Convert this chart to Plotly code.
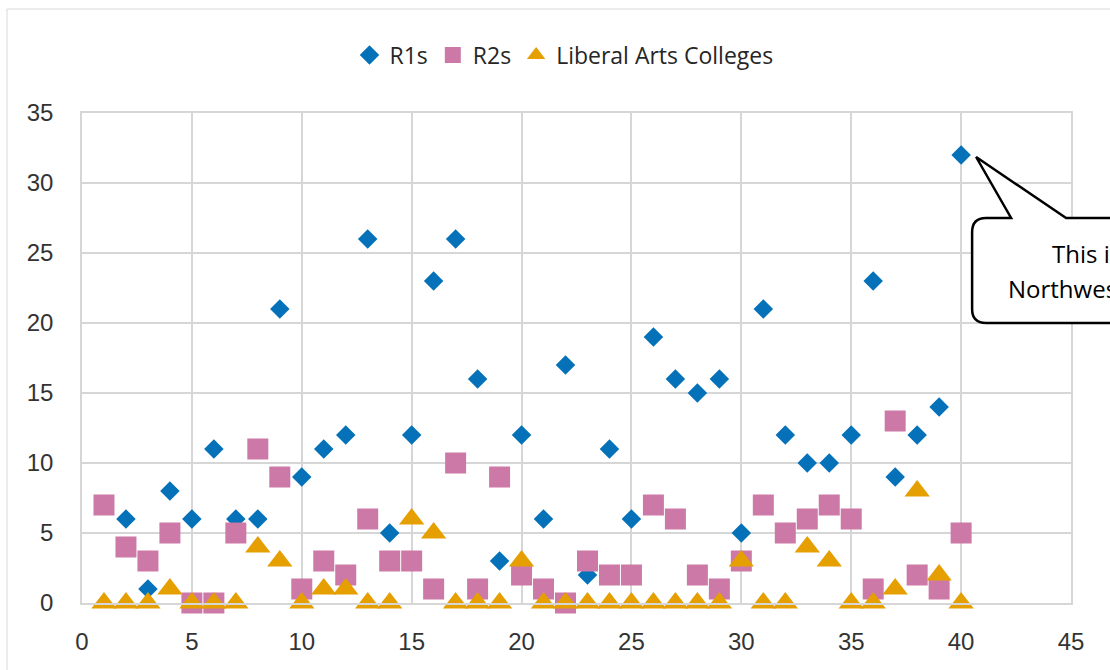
import plotly.graph_objects as go

# ---------------- data ----------------
r1_x = list(range(2, 41))
r1_y = [6, 1, 8, 6, 11, 6, 6, 21, 9, 11, 12, 26, 5, 12, 23, 26, 16, 3, 12, 6,
        17, 2, 11, 6, 19, 16, 15, 16, 5, 21, 12, 10, 10, 12, 23, 9, 12, 14, 32]

r2_x = list(range(1, 41))
r2_y = [7, 4, 3, 5, 0, 0, 5, 11, 9, 1, 3, 2, 6, 3, 3, 1, 10, 1, 9, 2,
        1, 0, 3, 2, 2, 7, 6, 2, 1, 3, 7, 5, 6, 7, 6, 1, 13, 2, 1, 5]

lac_x = list(range(1, 41))
lac_y = [0, 0, 0, 1, 0, 0, 0, 4, 3, 0, 1, 1, 0, 0, 6, 5, 0, 0, 0, 3,
         0, 0, 0, 0, 0, 0, 0, 0, 0, 3, 0, 0, 4, 3, 0, 0, 1, 8, 2, 0]

series_names = ["R1s", "R2s", "Liberal Arts Colleges"]
callout_lines = ["This is", "Northwestern"]

x_range = [0, 45]
y_range = [0, 35]

# ---------------- layout geometry ----------------
W, H = 1110, 670
ML, MR, MT, MB = 82, 39, 113, 67
PW, PH = W - ML - MR, H - MT - MB


def px_to_paper(px, py):
    return (px - ML) / PW, (H - MB - py) / PH


def data_to_px(x, y):
    return (ML + (x - x_range[0]) / (x_range[1] - x_range[0]) * PW,
            H - MB - (y - y_range[0]) / (y_range[1] - y_range[0]) * PH)


fig = go.Figure()
fig.add_trace(go.Scatter(x=r1_x, y=r1_y, mode="markers", name=series_names[0],
                         marker=dict(symbol="diamond", size=15, color="#0571B9"),
                         cliponaxis=False))
fig.add_trace(go.Scatter(x=r2_x, y=r2_y, mode="markers", name=series_names[1],
                         marker=dict(symbol="square", size=21, color="#CC79A7"),
                         cliponaxis=False))
fig.add_trace(go.Scatter(x=lac_x, y=lac_y, mode="markers", name=series_names[2],
                         marker=dict(symbol="triangle-up", size=22, color="#E69F00"),
                         cliponaxis=False))

grid = "#D6D6D6"
tickfont = dict(family="Liberation Sans, Arial, sans-serif", size=24, color="#333333")

fig.update_xaxes(range=x_range, dtick=5, tick0=0, showgrid=True, gridcolor=grid, gridwidth=1.5,
                 showline=True, linecolor=grid, linewidth=1.5, mirror=True, zeroline=False,
                 ticks="", tickfont=tickfont, ticklabelstandoff=16, fixedrange=True)
fig.update_yaxes(range=y_range, dtick=5, tick0=0, showgrid=True, gridcolor=grid, gridwidth=1.5,
                 showline=True, linecolor=grid, linewidth=1.5, mirror=True, zeroline=False,
                 ticks="", tickfont=tickfont, ticklabelstandoff=22, fixedrange=True)

# ---------------- callout anchored on the largest R1 value ----------------
imax = max(range(len(r1_y)), key=lambda i: r1_y[i])
ax_px, ay_px = data_to_px(r1_x[imax], r1_y[imax])

tip = (ax_px + 15, ay_px + 2)
box_l, box_t, box_b, box_r = ax_px + 11, ay_px + 63, ay_px + 168, ax_px + 240
base_l, base_r = ax_px + 50, ax_px + 105
rad = 14


def P(px, py):
    x, y = px_to_paper(px, py)
    return f"{x:.5f},{y:.5f}"


path = (f"M {P(box_l + rad, box_t)} L {P(base_l, box_t)} L {P(*tip)} L {P(base_r, box_t)} "
        f"L {P(box_r - rad, box_t)} Q {P(box_r, box_t)} {P(box_r, box_t + rad)} "
        f"L {P(box_r, box_b - rad)} Q {P(box_r, box_b)} {P(box_r - rad, box_b)} "
        f"L {P(box_l + rad, box_b)} Q {P(box_l, box_b)} {P(box_l, box_b - rad)} "
        f"L {P(box_l, box_t + rad)} Q {P(box_l, box_t)} {P(box_l + rad, box_t)} Z")

# outer chart border (cropped chart area)
ox0, oy1 = px_to_paper(7, 9)
ox1, oy0 = px_to_paper(W + 60, H + 60)

fig.update_layout(
    width=W, height=H,
    margin=dict(l=ML, r=MR, t=MT, b=MB),
    paper_bgcolor="white", plot_bgcolor="white",
    showlegend=True,
    legend=dict(orientation="h", x=px_to_paper(564, 0)[0], y=px_to_paper(0, 55)[1],
                xanchor="center", yanchor="middle",
                font=dict(family="Open Sans, Noto Sans, sans-serif", size=23, color="#262626"),
                itemsizing="trace", bgcolor="rgba(0,0,0,0)"),
    shapes=[
        dict(type="rect", xref="paper", yref="paper", x0=ox0, x1=ox1, y0=oy0, y1=oy1,
             line=dict(color="#D9D9D9", width=1), fillcolor="rgba(0,0,0,0)", layer="below"),
        dict(type="path", xref="paper", yref="paper", path=path,
             line=dict(color="black", width=2.5), fillcolor="white", layer="above"),
    ],
)

cx = ax_px + 125
for i, line in enumerate(callout_lines):
    ly = ay_px + 98 + 35 * i
    xp, yp = px_to_paper(cx, ly)
    fig.add_annotation(text=line, xref="paper", yref="paper", x=xp, y=yp,
                       xanchor="center", yanchor="middle", showarrow=False,
                       font=dict(family="Open Sans, Noto Sans, sans-serif", size=24, color="black"))

fig.write_html("out.html", config={"displayModeBar": False},
               post_script="document.body.style.margin='0';document.body.style.overflow='hidden';")
